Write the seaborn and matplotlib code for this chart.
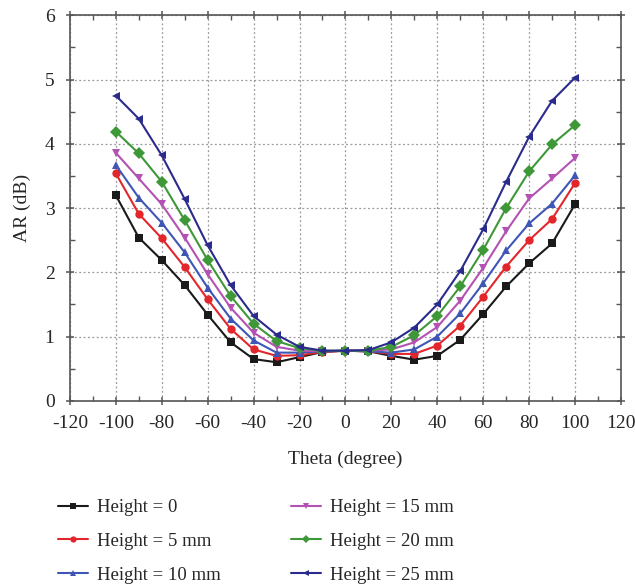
import numpy as np
import pandas as pd
import matplotlib
matplotlib.use("Agg")
import matplotlib.pyplot as plt
import seaborn as sns
from matplotlib.ticker import MultipleLocator

theta = [-100, -90, -80, -70, -60, -50, -40, -30, -20, -10, 0,
         10, 20, 30, 40, 50, 60, 70, 80, 90, 100]

h0 = [3.20, 2.54, 2.19, 1.80, 1.34, 0.91, 0.65, 0.60, 0.68, 0.76, 0.78,
      0.77, 0.70, 0.64, 0.70, 0.95, 1.35, 1.78, 2.14, 2.45, 3.06]
h5 = [3.54, 2.91, 2.53, 2.08, 1.58, 1.12, 0.80, 0.70, 0.71, 0.76, 0.78,
      0.77, 0.73, 0.73, 0.86, 1.17, 1.62, 2.09, 2.50, 2.83, 3.39]
h10 = [3.67, 3.16, 2.77, 2.31, 1.76, 1.28, 0.94, 0.75, 0.75, 0.77, 0.78,
       0.77, 0.75, 0.80, 1.00, 1.36, 1.83, 2.34, 2.76, 3.07, 3.51]
h15 = [3.86, 3.46, 3.06, 2.54, 1.97, 1.45, 1.06, 0.84, 0.78, 0.77, 0.78,
       0.78, 0.80, 0.91, 1.15, 1.56, 2.07, 2.64, 3.15, 3.46, 3.78]
h20 = [4.19, 3.85, 3.41, 2.81, 2.19, 1.63, 1.20, 0.93, 0.82, 0.78, 0.78,
       0.78, 0.84, 1.02, 1.32, 1.78, 2.35, 3.00, 3.57, 3.99, 4.29]
h25 = [4.75, 4.39, 3.82, 3.14, 2.42, 1.80, 1.32, 1.03, 0.84, 0.78, 0.78,
       0.79, 0.91, 1.14, 1.50, 2.02, 2.67, 3.41, 4.11, 4.67, 5.03]

labels = ["Height = 0", "Height = 5 mm", "Height = 10 mm",
          "Height = 15 mm", "Height = 20 mm", "Height = 25 mm"]
series = [h0, h5, h10, h15, h20, h25]
colors = ["#1a1a1a", "#e3262b", "#3f56b5", "#b352b3", "#3e9838", "#2a2b8c"]
markers = ["s", "o", "^", "v", "D", "<"]

df = pd.concat([pd.DataFrame({"theta": theta, "AR": s, "series": lab})
                for s, lab in zip(series, labels)], ignore_index=True)

sns.set_style("ticks")
plt.rcParams["font.family"] = ["Liberation Serif", "DejaVu Serif"]
plt.rcParams["axes.unicode_minus"] = False

fig = plt.figure(figsize=(6.35, 5.86), dpi=100)
ax = fig.add_axes([0.110, 0.316, 0.868, 0.658])

sns.lineplot(data=df, x="theta", y="AR", hue="series", style="series",
             hue_order=labels, style_order=labels,
             palette=dict(zip(labels, colors)),
             markers=dict(zip(labels, markers)), dashes=False,
             markersize=6, markeredgewidth=0, linewidth=1.5, ax=ax,
             legend=True)

ax.set_xlim(-120, 120)
ax.set_ylim(0, 6)
ax.xaxis.set_major_locator(MultipleLocator(20))
ax.xaxis.set_minor_locator(MultipleLocator(10))
ax.yaxis.set_major_locator(MultipleLocator(1))
ax.yaxis.set_minor_locator(MultipleLocator(0.5))
ax.grid(True, which="major", color="#999999", linestyle=(0, (1.5, 2)), linewidth=0.9)
for sp in ax.spines.values():
    sp.set_visible(True)
    sp.set_color("#555555")
    sp.set_linewidth(1.2)
ax.tick_params(which="major", direction="inout", length=6, width=1.1,
               color="#555555", labelsize=14, top=True, right=True,
               labeltop=False, labelright=False)
ax.tick_params(axis="y", which="major", pad=8)
ax.tick_params(axis="x", which="major", pad=7)
ax.tick_params(which="minor", direction="in", length=3.5, width=1.0,
               color="#555555", top=True, right=True)
ax.set_xlabel("Theta (degree)", fontsize=14, labelpad=14)
ax.set_ylabel("AR (dB)", fontsize=14, labelpad=10)

handles, labs = ax.get_legend_handles_labels()
ax.get_legend().remove()
fig.legend(handles, labs, ncol=2, loc="upper left",
           bbox_to_anchor=(0.064, 0.177), frameon=False, fontsize=13.5,
           handlelength=1.6, handletextpad=0.5, labelspacing=0.88,
           columnspacing=3.75, markerscale=0.75)

fig.savefig("out.png", dpi=100)
